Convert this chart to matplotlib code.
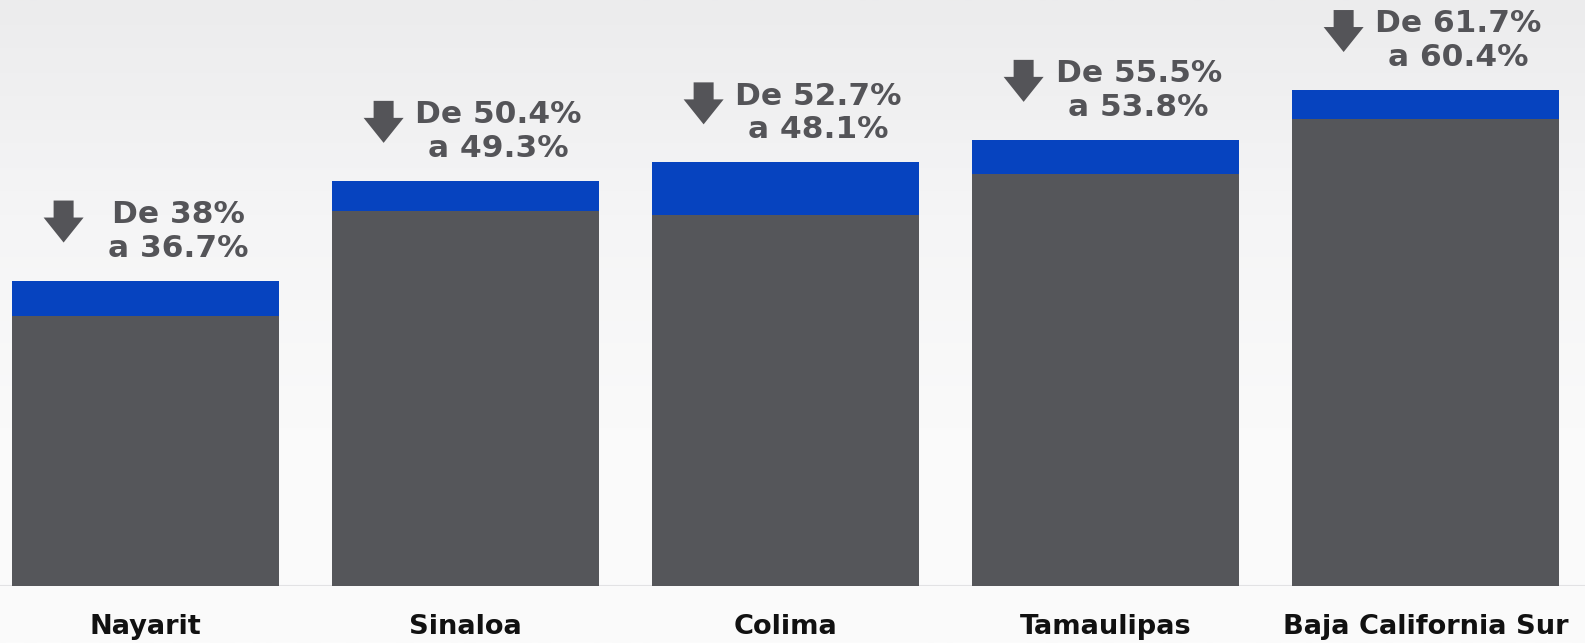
import numpy as np
import matplotlib
matplotlib.use("Agg")
import matplotlib.pyplot as plt
from matplotlib.patches import Polygon
from matplotlib.colors import LinearSegmentedColormap

# ---- data ----
states = ["Nayarit", "Sinaloa", "Colima", "Tamaulipas", "Baja California Sur"]
before_pct = [38.0, 50.4, 52.7, 55.5, 61.7]
after_pct = [36.7, 49.3, 48.1, 53.8, 60.4]
# height of the grey segment as drawn in the source graphic
grey_drawn = [33.6, 46.6, 46.1, 51.2, 58.1]

GREY = "#55565a"
BLUE = "#0643bf"
TEXT_GREY = "#545458"

W, H, DPI = 1585, 643, 100
fig = plt.figure(figsize=(W / DPI, H / DPI), dpi=DPI)

# background gradient
bg = fig.add_axes([0, 0, 1, 1], zorder=-10)
grad = np.linspace(0, 1, 256)[:, None]
cmap = LinearSegmentedColormap.from_list("bg", ["#ececed", "#f5f5f6", "#fafafa", "#fbfbfb"])
bg.imshow(grad, aspect="auto", cmap=cmap, extent=[0, 1, 0, 1], origin="upper")
bg.axis("off")

bottom_px = 57
ax = fig.add_axes([0, bottom_px / H, 1, 1 - bottom_px / H])
ax.patch.set_alpha(0)

x = np.arange(len(states))
xlim = (-0.455, 4.498)
ylim = (0, 72.9)
ax.set_xlim(*xlim)
ax.set_ylim(*ylim)

px_x = (xlim[1] - xlim[0]) / W                 # data units per pixel (x)
px_y = (ylim[1] - ylim[0]) / (H - bottom_px)   # data units per pixel (y)

bw = 0.834
ax.bar(x, grey_drawn, width=bw, color=GREY, zorder=3)
ax.bar(x, np.array(before_pct) - np.array(grey_drawn), bottom=grey_drawn,
       width=bw, color=BLUE, zorder=3)
ax.axhline(0, color="#e2e2e4", lw=1.5, zorder=2)

for xi, b, a in zip(x, before_pct, after_pct):
    label = f"De {b:g}%\na {a:g}%"
    ax.text(xi + 33 * px_x, b + 24 * px_y, label, ha="center", va="baseline",
            multialignment="center", fontsize=22.5, fontweight="bold",
            color=TEXT_GREY, linespacing=1.2, family="DejaVu Sans", zorder=4)
    # down arrow (pixels relative to tip)
    shape = [(0, 0), (-20, 25), (-10, 25), (-10, 42), (10, 42), (10, 25), (20, 25)]
    tx, ty = xi - 82 * px_x, b + 38 * px_y
    verts = [(tx + sx * px_x, ty + sy * px_y) for sx, sy in shape]
    ax.add_patch(Polygon(verts, closed=True, color=TEXT_GREY, lw=0, zorder=4))

ax.set_xticks(x)
ax.set_xticklabels(states, fontsize=19.6, fontweight="bold", color="#111111",
                   family="DejaVu Sans")
ax.tick_params(axis="x", length=0, pad=20)
ax.set_yticks([])
for s in ax.spines.values():
    s.set_visible(False)

fig.savefig("out.png", dpi=DPI)
